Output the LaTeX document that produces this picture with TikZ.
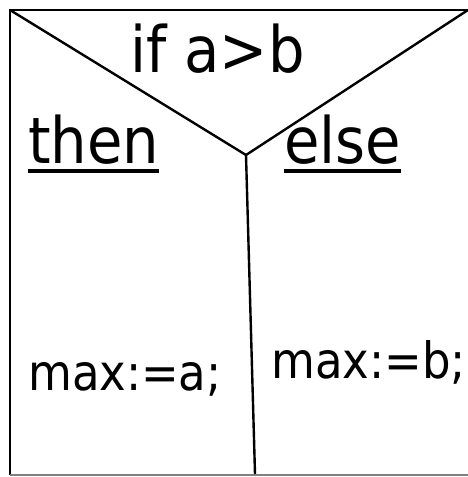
\documentclass[tikz,border=0pt]{standalone}
\usepackage{fontspec}
\setmainfont{DejaVu Sans Condensed}
\begin{document}
\begin{tikzpicture}[x=1pt,y=-1pt,
  frame/.style={line width=2.4pt,black},
  big/.style={inner sep=0pt,anchor=base west,font=\fontsize{64}{64}\selectfont},
  small/.style={inner sep=0pt,anchor=base west,font=\fontsize{50}{50}\selectfont},
  uline/.style={line width=4pt}]
\useasboundingbox (0,0) rectangle (468,477);
\coordinate (tl) at (10,10);
\coordinate (tr) at (468,10);
\coordinate (bl) at (10,475);
\coordinate (br) at (468,475);
\coordinate (v) at (246,155);
\coordinate (vb) at (255,474);
\draw[frame] (tr) -- (tl) -- (bl);
\draw[gray,line width=1.5pt] (bl) -- (br);
\draw[frame] (tl) -- (v) -- (tr);
\draw[frame] (v) -- (vb);
\node[big] (cond) at (130,72) {if a>b};
\node[big] (then) at (28,163) {then};
\node[big] (else) at (284,163) {else};
\draw[uline] ([yshift=-7.5pt]then.base west) -- ([yshift=-7.5pt]then.base east);
\draw[uline] ([yshift=-7.5pt]else.base west) -- ([yshift=-7.5pt]else.base east);
\node[small] (ma) at (28,390) {max:=a;};
\node[small] (mb) at (271,378) {max:=b;};
\end{tikzpicture}
\end{document}
